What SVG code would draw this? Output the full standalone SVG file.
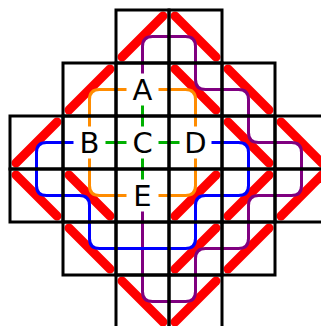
<svg xmlns="http://www.w3.org/2000/svg" width="321" height="326" viewBox="0 0 321 326">
<style>
.cell{fill:none;stroke:#000;stroke-width:3}
.red{stroke:#ff0000;stroke-width:9;stroke-linecap:round;fill:none}
.ln{fill:none;stroke-width:3}
.lbl{font-family:"DejaVu Sans",sans-serif;font-size:29px;fill:#000;text-anchor:middle}
</style>
<rect width="321" height="326" fill="#fff"/>
<g id="dominoes">
<line class="red" x1="122" y1="57" x2="163" y2="16"/>
<line class="red" x1="175" y1="16" x2="216" y2="57"/>
<line class="red" x1="69" y1="110" x2="110" y2="69"/>
<line class="red" x1="175" y1="69" x2="216" y2="110"/>
<line class="red" x1="228" y1="69" x2="269" y2="110"/>
<line class="red" x1="16" y1="163" x2="57" y2="122"/>
<line class="red" x1="228" y1="122" x2="269" y2="163"/>
<line class="red" x1="281" y1="122" x2="322" y2="163"/>
<line class="red" x1="16" y1="175" x2="57" y2="216"/>
<line class="red" x1="69" y1="175" x2="110" y2="216"/>
<line class="red" x1="175" y1="216" x2="216" y2="175"/>
<line class="red" x1="228" y1="216" x2="269" y2="175"/>
<line class="red" x1="281" y1="216" x2="322" y2="175"/>
<line class="red" x1="69" y1="228" x2="110" y2="269"/>
<line class="red" x1="175" y1="269" x2="216" y2="228"/>
<line class="red" x1="228" y1="269" x2="269" y2="228"/>
<line class="red" x1="122" y1="281" x2="163" y2="322"/>
<line class="red" x1="175" y1="322" x2="216" y2="281"/>
</g>
<g id="connectors">
<path class="ln" stroke="#800080" d="M142.5 73.5V46.5Q142.5 36.5 152.5 36.5H185.5Q195.5 36.5 195.5 46.5V79.5Q195.5 89.5 205.5 89.5H238.5Q248.5 89.5 248.5 99.5V132.5Q248.5 142.5 258.5 142.5H291.5Q301.5 142.5 301.5 152.5V185.5Q301.5 195.5 291.5 195.5H258.5Q248.5 195.5 248.5 205.5V238.5Q248.5 248.5 238.5 248.5H205.5Q195.5 248.5 195.5 258.5V291.5Q195.5 301.5 185.5 301.5H152.5Q142.5 301.5 142.5 291.5V211.5"/>
<path class="ln" stroke="#0000ff" d="M73.5 142.5H46.5Q36.5 142.5 36.5 152.5V185.5Q36.5 195.5 46.5 195.5H79.5Q89.5 195.5 89.5 205.5V238.5Q89.5 248.5 99.5 248.5H185.5Q195.5 248.5 195.5 238.5V205.5Q195.5 195.5 205.5 195.5H238.5Q248.5 195.5 248.5 185.5V152.5Q248.5 142.5 238.5 142.5H211.5"/>
<path class="ln" stroke="#ff8c00" d="M126.5 89.5H99.5Q89.5 89.5 89.5 99.5V126.5M89.5 158.5V185.5Q89.5 195.5 99.5 195.5H126.5M158.5 195.5H185.5Q195.5 195.5 195.5 185.5V158.5M195.5 126.5V99.5Q195.5 89.5 185.5 89.5H158.5"/>
<path class="ln" stroke="#00b000" d="M142.5 105.5V126.5M105.5 142.5H126.5M158.5 142.5H179.5M142.5 158.5V179.5"/>
</g>
<g id="grid">
<rect class="cell" x="116" y="10" width="53" height="53"/>
<rect class="cell" x="169" y="10" width="53" height="53"/>
<rect class="cell" x="63" y="63" width="53" height="53"/>
<rect class="cell" x="116" y="63" width="53" height="53"/>
<rect class="cell" x="169" y="63" width="53" height="53"/>
<rect class="cell" x="222" y="63" width="53" height="53"/>
<rect class="cell" x="10" y="116" width="53" height="53"/>
<rect class="cell" x="63" y="116" width="53" height="53"/>
<rect class="cell" x="116" y="116" width="53" height="53"/>
<rect class="cell" x="169" y="116" width="53" height="53"/>
<rect class="cell" x="222" y="116" width="53" height="53"/>
<rect class="cell" x="275" y="116" width="53" height="53"/>
<rect class="cell" x="10" y="169" width="53" height="53"/>
<rect class="cell" x="63" y="169" width="53" height="53"/>
<rect class="cell" x="116" y="169" width="53" height="53"/>
<rect class="cell" x="169" y="169" width="53" height="53"/>
<rect class="cell" x="222" y="169" width="53" height="53"/>
<rect class="cell" x="275" y="169" width="53" height="53"/>
<rect class="cell" x="63" y="222" width="53" height="53"/>
<rect class="cell" x="116" y="222" width="53" height="53"/>
<rect class="cell" x="169" y="222" width="53" height="53"/>
<rect class="cell" x="222" y="222" width="53" height="53"/>
<rect class="cell" x="116" y="275" width="53" height="53"/>
<rect class="cell" x="169" y="275" width="53" height="53"/>
</g>
<g id="A"><text class="lbl" x="142.5" y="100">A</text></g>
<g id="B"><text class="lbl" x="89.5" y="153">B</text></g>
<g id="C"><text class="lbl" x="142.5" y="153">C</text></g>
<g id="D"><text class="lbl" x="195.5" y="153">D</text></g>
<g id="E"><text class="lbl" x="142.5" y="206">E</text></g>
</svg>
